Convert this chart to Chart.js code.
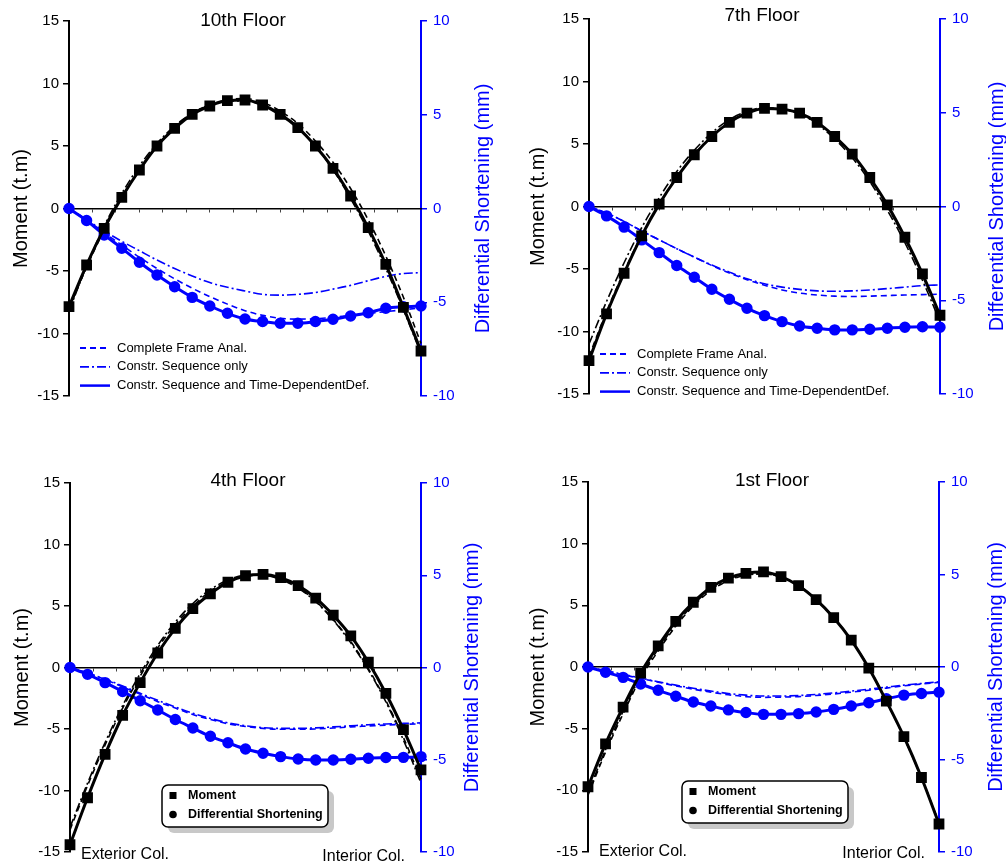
<!DOCTYPE html>
<html>
<head>
<meta charset="utf-8">
<script src="https://cdn.jsdelivr.net/npm/chart.js@4.4.1/dist/chart.umd.min.js"></script>
<style>
  body { margin: 0; background: #fff; width: 1006px; height: 867px; position: relative; overflow: hidden; }
  canvas { position: absolute; }
</style>
</head>
<body>
<canvas id="c10" width="503" height="433" style="left:0px;top:0px"></canvas>
<canvas id="c7" width="503" height="433" style="left:503px;top:0px"></canvas>
<canvas id="c4" width="503" height="434" style="left:0px;top:433px"></canvas>
<canvas id="c1" width="503" height="434" style="left:503px;top:433px"></canvas>
<script>
// stations along the beam, exterior col. (0) to interior col. (20)
const stations = [0, 1, 2, 3, 4, 5, 6, 7, 8, 9, 10, 11, 12, 13, 14, 15, 16, 17, 18, 19, 20];
const momentTicks = [-15, -10, -5, 0, 5, 10, 15];
const shortTicks = [-10, -5, 0, 5, 10];
const caseNames = ['Complete Frame Anal.', 'Constr. Sequence only', 'Constr. Sequence and Time-DependentDef.'];
const markerNames = ['Moment', 'Differential Shortening'];

// 10th floor
const m10cfa = [-8.0, -4.7, -1.7, 0.9, 3.1, 5.0, 6.5, 7.6, 8.3, 8.7, 8.8, 8.5, 7.8, 6.8, 5.4, 3.7, 1.6, -0.9, -3.8, -7.1, -10.8];
const m10cso = [-8.2, -4.6, -1.4, 1.2, 3.4, 5.2, 6.6, 7.6, 8.3, 8.6, 8.6, 8.3, 7.6, 6.5, 5.0, 3.1, 0.8, -1.8, -4.8, -8.1, -11.6];
const m10tdd = [-7.85, -4.52, -1.59, 0.89, 3.08, 5.0, 6.41, 7.53, 8.2, 8.63, 8.68, 8.28, 7.53, 6.47, 5.0, 3.21, 1.0, -1.53, -4.47, -7.91, -11.4];
const s10cfa = [0, -0.6, -1.3, -1.95, -2.6, -3.2, -3.75, -4.25, -4.7, -5.1, -5.45, -5.7, -5.85, -5.9, -5.88, -5.8, -5.7, -5.6, -5.5, -5.4, -5.3];
const s10cso = [0, -0.6, -1.2, -1.75, -2.25, -2.75, -3.2, -3.6, -3.95, -4.2, -4.4, -4.58, -4.62, -4.58, -4.48, -4.3, -4.1, -3.85, -3.62, -3.47, -3.42];
const s10tdd = [0, -0.64, -1.41, -2.12, -2.87, -3.55, -4.17, -4.74, -5.2, -5.59, -5.89, -6.03, -6.12, -6.12, -6.03, -5.91, -5.73, -5.56, -5.32, -5.24, -5.2];

// 7th floor
const m7cfa = [-12.0, -8.4, -5.2, -2.3, 0.2, 2.35, 4.15, 5.6, 6.75, 7.5, 7.85, 7.8, 7.45, 6.7, 5.55, 4.1, 2.2, 0.0, -2.6, -5.5, -8.9];
const m7cso = [-11.0, -7.6, -4.5, -1.7, 0.7, 2.8, 4.5, 5.9, 6.95, 7.6, 7.9, 7.8, 7.4, 6.6, 5.4, 3.9, 2.0, -0.3, -2.9, -5.9, -9.2];
const m7tdd = [-12.33, -8.59, -5.34, -2.35, 0.19, 2.32, 4.14, 5.6, 6.73, 7.47, 7.85, 7.79, 7.47, 6.73, 5.6, 4.19, 2.32, 0.13, -2.46, -5.39, -8.7];
const s7cfa = [0, -0.35, -0.8, -1.3, -1.78, -2.25, -2.7, -3.15, -3.55, -3.9, -4.2, -4.45, -4.62, -4.72, -4.78, -4.8, -4.78, -4.75, -4.72, -4.7, -4.68];
const s7cso = [0, -0.35, -0.8, -1.3, -1.78, -2.25, -2.7, -3.12, -3.5, -3.85, -4.12, -4.3, -4.42, -4.5, -4.52, -4.5, -4.45, -4.38, -4.3, -4.22, -4.18];
const s7tdd = [0, -0.5, -1.1, -1.78, -2.46, -3.15, -3.77, -4.41, -4.95, -5.43, -5.82, -6.14, -6.37, -6.49, -6.58, -6.58, -6.55, -6.49, -6.44, -6.41, -6.44];

// 4th floor
const m4cfa = [-13.2, -9.6, -6.3, -3.3, -0.7, 1.6, 3.5, 5.0, 6.2, 7.0, 7.45, 7.5, 7.2, 6.5, 5.4, 3.9, 2.1, -0.1, -2.7, -5.7, -9.1];
const m4cso = [-13.0, -9.4, -6.1, -3.1, -0.5, 1.8, 3.7, 5.2, 6.35, 7.1, 7.5, 7.5, 7.15, 6.45, 5.35, 3.85, 2.0, -0.2, -2.8, -5.9, -9.4];
const m4tdd = [-14.41, -10.59, -7.06, -3.9, -1.23, 1.18, 3.18, 4.79, 5.99, 6.93, 7.46, 7.57, 7.3, 6.66, 5.64, 4.25, 2.57, 0.43, -2.11, -5.05, -8.32];
const s4cfa = [0, -0.3, -0.65, -1.05, -1.45, -1.85, -2.2, -2.55, -2.82, -3.05, -3.2, -3.3, -3.35, -3.35, -3.33, -3.28, -3.22, -3.17, -3.12, -3.08, -3.05];
const s4cso = [0, -0.3, -0.63, -1.0, -1.4, -1.78, -2.14, -2.48, -2.76, -3.0, -3.16, -3.26, -3.3, -3.3, -3.27, -3.22, -3.16, -3.1, -3.06, -3.03, -3.0];
const s4tdd = [0, -0.37, -0.82, -1.3, -1.8, -2.3, -2.82, -3.28, -3.73, -4.08, -4.42, -4.65, -4.83, -4.96, -5.01, -5.01, -4.97, -4.92, -4.88, -4.87, -4.83];

// 1st floor
const m1cfa = [-10.4, -6.9, -3.8, -0.9, 1.3, 3.3, 4.95, 6.2, 7.0, 7.45, 7.55, 7.3, 6.6, 5.45, 4.0, 2.15, -0.1, -2.8, -5.7, -9.0, -12.6];
const m1cso = [-10.2, -6.7, -3.6, -0.75, 1.45, 3.45, 5.05, 6.3, 7.05, 7.45, 7.55, 7.3, 6.6, 5.45, 4.0, 2.2, -0.05, -2.75, -5.65, -8.95, -12.7];
const m1tdd = [-9.71, -6.24, -3.25, -0.49, 1.72, 3.7, 5.25, 6.45, 7.2, 7.6, 7.71, 7.33, 6.59, 5.46, 4.0, 2.18, -0.09, -2.77, -5.65, -8.96, -12.73];
const s1cfa = [0, -0.2, -0.42, -0.62, -0.82, -1.02, -1.2, -1.36, -1.5, -1.6, -1.64, -1.63, -1.6, -1.54, -1.46, -1.36, -1.26, -1.14, -1.02, -0.92, -0.83];
const s1cso = [0, -0.2, -0.4, -0.6, -0.8, -0.98, -1.15, -1.3, -1.43, -1.52, -1.57, -1.57, -1.54, -1.48, -1.4, -1.3, -1.2, -1.09, -0.98, -0.89, -0.8];
const s1tdd = [0, -0.28, -0.56, -0.92, -1.26, -1.58, -1.89, -2.11, -2.32, -2.46, -2.56, -2.56, -2.52, -2.43, -2.29, -2.11, -1.93, -1.72, -1.52, -1.43, -1.36];

const BLUE = '#0000ff';
const FONT = "'Liberation Sans', Arial, sans-serif";
const DASHES = [[6, 4], [9, 3, 2, 3], []];

const panels = [
  { id: 'c10', left: 0, top: 0, w: 503, h: 433, area: { l: 69, t: 21, r: 421, b: 396 },
    title: '10th Floor', titleX: 243, titleY: 21, lTitleX: 21, rTitleX: 483,
    legend: 'lines', legX: 80, legY: 348,
    moment: [m10cfa, m10cso, m10tdd], short: [s10cfa, s10cso, s10tdd] },
  { id: 'c7', left: 503, top: 0, w: 503, h: 433, area: { l: 589, t: 19, r: 940, b: 394 },
    title: '7th Floor', titleX: 762, titleY: 16, lTitleX: 538, rTitleX: 997,
    legend: 'lines', legX: 600, legY: 354,
    moment: [m7cfa, m7cso, m7tdd], short: [s7cfa, s7cso, s7tdd] },
  { id: 'c4', left: 0, top: 433, w: 503, h: 434, area: { l: 70, t: 483, r: 421, b: 857 },
    title: '4th Floor', titleX: 248, titleY: 481, lTitleX: 22, rTitleX: 472,
    legend: 'markers', legX: 162, legY: 785, colY: 855,
    extX: 81, intX: 405,
    moment: [m4cfa, m4cso, m4tdd], short: [s4cfa, s4cso, s4tdd] },
  { id: 'c1', left: 503, top: 433, w: 503, h: 434, area: { l: 588, t: 482, r: 939, b: 856 },
    title: '1st Floor', titleX: 772, titleY: 481, lTitleX: 538, rTitleX: 996,
    legend: 'markers', legX: 682, legY: 781, colY: 852,
    extX: 599, intX: 925,
    moment: [m1cfa, m1cso, m1tdd], short: [s1cfa, s1cso, s1tdd] }
];

function toPoints(values) {
  return stations.map((x, i) => ({ x: x, y: values[i] }));
}

function makeDatasets(p) {
  const sets = [];
  // solid lines with markers on top
  sets.push({ data: toPoints(p.moment[2]), yAxisID: 'y', borderColor: '#000', backgroundColor: '#000',
    borderWidth: 3, pointStyle: 'rect', pointRadius: 5.5, clip: false });
  sets.push({ data: toPoints(p.short[2]), yAxisID: 'y1', borderColor: BLUE, backgroundColor: BLUE,
    borderWidth: 3, pointStyle: 'circle', pointRadius: 4.2, clip: false });
  for (let k = 0; k < 2; k++) {
    sets.push({ data: toPoints(p.moment[k]), yAxisID: 'y', borderColor: '#000', borderWidth: 1.6,
      borderDash: DASHES[k], pointRadius: 0, clip: false });
    sets.push({ data: toPoints(p.short[k]), yAxisID: 'y1', borderColor: BLUE, borderWidth: 1.6,
      borderDash: DASHES[k], pointRadius: 0, clip: false });
  }
  return sets;
}

function rotatedText(ctx, text, x, y, color) {
  ctx.save();
  ctx.translate(x, y);
  ctx.rotate(-Math.PI / 2);
  ctx.fillStyle = color;
  ctx.font = '20px ' + FONT;
  ctx.textAlign = 'center';
  ctx.textBaseline = 'middle';
  ctx.fillText(text, 0, 0);
  ctx.restore();
}

function roundRect(ctx, x, y, w, h, r) {
  ctx.beginPath();
  ctx.moveTo(x + r, y);
  ctx.arcTo(x + w, y, x + w, y + h, r);
  ctx.arcTo(x + w, y + h, x, y + h, r);
  ctx.arcTo(x, y + h, x, y, r);
  ctx.arcTo(x, y, x + w, y, r);
  ctx.closePath();
}

function decorPlugin(p) {
  return {
    id: 'decor',
    afterDraw(chart) {
      const ctx = chart.ctx;
      const ox = p.left, oy = p.top;
      const cy = (chart.chartArea.top + chart.chartArea.bottom) / 2;
      ctx.save();
      // panel title
      ctx.fillStyle = '#000';
      ctx.font = '19px ' + FONT;
      ctx.textAlign = 'center';
      ctx.textBaseline = 'middle';
      ctx.fillText(p.title, p.titleX - ox, p.titleY - oy);

      rotatedText(ctx, 'Moment (t.m)', p.lTitleX - ox, cy, '#000');
      rotatedText(ctx, 'Differential Shortening (mm)', p.rTitleX - ox, cy, BLUE);

      if (p.legend === 'lines') {
        ctx.font = '13px ' + FONT;
        ctx.textAlign = 'left';
        for (let k = 0; k < 3; k++) {
          const y = p.legY - oy + k * 18.8;
          ctx.strokeStyle = BLUE;
          ctx.lineWidth = k === 2 ? 2.5 : 1.8;
          ctx.setLineDash(DASHES[k]);
          ctx.beginPath();
          ctx.moveTo(p.legX - ox, y);
          ctx.lineTo(p.legX - ox + 30, y);
          ctx.stroke();
          ctx.setLineDash([]);
          ctx.fillStyle = '#000';
          ctx.fillText(caseNames[k], p.legX - ox + 37, y);
        }
      } else {
        const bx = p.legX - ox, by = p.legY - oy, bw = 166, bh = 42;
        ctx.fillStyle = '#c8c8c8';
        roundRect(ctx, bx + 6, by + 6, bw, bh, 6);
        ctx.fill();
        ctx.fillStyle = '#fff';
        ctx.strokeStyle = '#000';
        ctx.lineWidth = 1.5;
        roundRect(ctx, bx, by, bw, bh, 6);
        ctx.fill();
        ctx.stroke();
        ctx.fillStyle = '#000';
        ctx.fillRect(bx + 7.5, by + 7, 7, 7);
        ctx.beginPath();
        ctx.arc(bx + 11, by + 29.5, 3.8, 0, Math.PI * 2);
        ctx.fill();
        ctx.font = 'bold 12.5px ' + FONT;
        ctx.textAlign = 'left';
        ctx.fillText(markerNames[0], bx + 26, by + 11);
        ctx.fillText(markerNames[1], bx + 26, by + 29.5);

        ctx.font = '16px ' + FONT;
        ctx.fillText('Exterior Col.', p.extX - ox, p.colY - oy);
        ctx.textAlign = 'right';
        ctx.fillText('Interior Col.', p.intX - ox, p.colY - oy + 2);
      }
      ctx.restore();
    }
  };
}

panels.forEach(p => {
  const ctx = document.getElementById(p.id).getContext('2d');
  new Chart(ctx, {
    type: 'line',
    data: { datasets: makeDatasets(p) },
    options: {
      responsive: false,
      animation: false,
      devicePixelRatio: 1,
      layout: { padding: { left: 0, right: 0, top: p.area.t - p.top, bottom: p.top + p.h - p.area.b } },
      plugins: { legend: { display: false }, tooltip: { enabled: false } },
      elements: { line: { cubicInterpolationMode: 'monotone' } },
      scales: {
        y: {
          type: 'linear', position: 'left', min: -15, max: 15,
          afterBuildTicks: s => { s.ticks = momentTicks.map(v => ({ value: v })); },
          afterFit: s => { s.width = p.area.l - p.left; },
          border: { color: '#000', width: 2 },
          grid: { drawOnChartArea: false, tickLength: 6, color: '#000', lineWidth: 1.5 },
          ticks: { color: '#000', padding: 4, font: { family: FONT, size: 15 } }
        },
        y1: {
          type: 'linear', position: 'right', min: -10, max: 10,
          afterBuildTicks: s => { s.ticks = shortTicks.map(v => ({ value: v })); },
          afterFit: s => { s.width = p.left + p.w - p.area.r; },
          border: { color: BLUE, width: 2 },
          grid: { drawOnChartArea: false, tickLength: 6, color: BLUE, lineWidth: 1.5 },
          ticks: { color: BLUE, padding: 6, font: { family: FONT, size: 15 } }
        },
        x: {
          type: 'linear', min: 0, max: 20, position: { y: 0 },
          border: { color: '#000', width: 1.5 },
          grid: { drawOnChartArea: false, tickLength: 3, color: '#444', lineWidth: 1 },
          ticks: { display: false, count: 16 }
        }
      }
    },
    plugins: [decorPlugin(p)]
  });
});
</script>
</body>
</html>
